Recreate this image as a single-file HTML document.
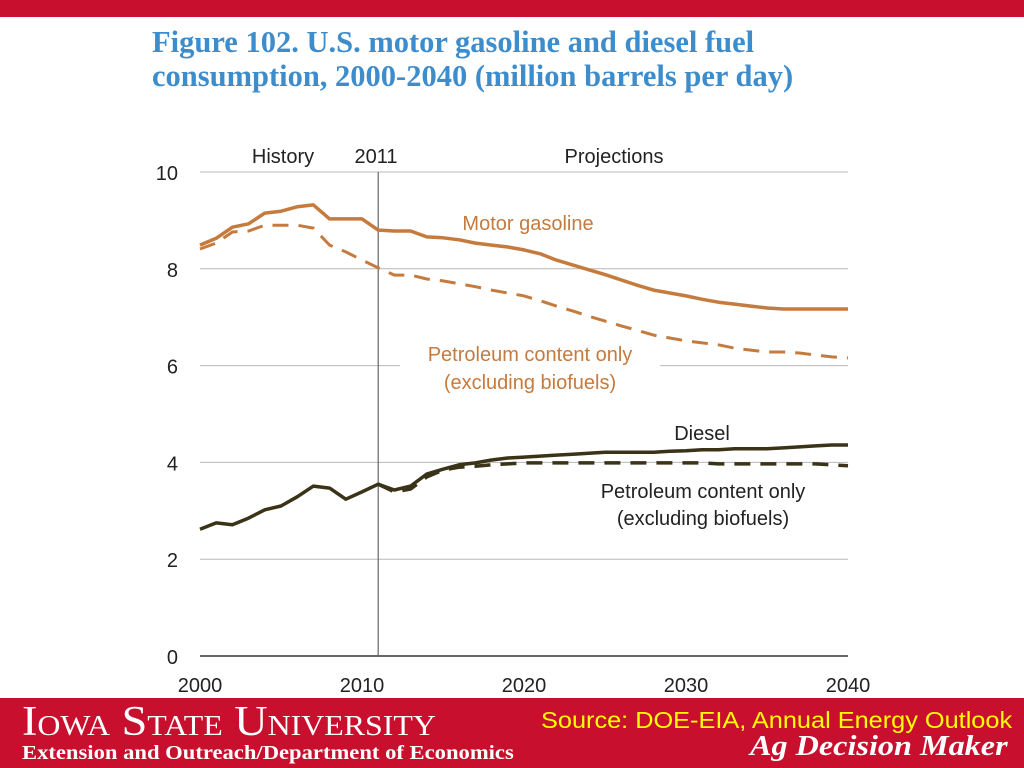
<!DOCTYPE html>
<html><head><meta charset="utf-8"><style>
body{margin:0;width:1024px;height:768px;overflow:hidden;background:#fff;position:relative;font-family:"Liberation Sans",sans-serif}
.abs{position:absolute;white-space:nowrap}
</style></head><body>
<div class="abs" style="left:0;top:0;width:1024px;height:17px;background:#c8102e"></div>
<div class="abs" style="left:152px;top:25px;font-family:'Liberation Serif',serif;font-weight:bold;font-size:30.5px;line-height:34px;color:#3d8ccc">Figure 102. U.S. motor gasoline and diesel fuel<br>consumption, 2000-2040 (million barrels per day)</div>
<svg class="abs" style="left:0;top:0" width="1024" height="700">
<g id="grid"></g><g id="lines"></g><g id="labels"></g>
</svg>
<div class="abs" style="left:0;top:698px;width:1024px;height:70px;background:#c8102e"></div>
<div class="abs" style="left:22px;top:698px;font-family:'Liberation Serif',serif;font-size:42px;color:#fff;font-variant:small-caps;transform:scaleX(1.1);transform-origin:left">Iowa State University</div>
<div class="abs" style="left:22px;top:742px;font-family:'Liberation Serif',serif;font-size:20px;font-weight:bold;color:#fff;transform:scaleX(1.13);transform-origin:left">Extension and Outreach/Department of Economics</div>
<div class="abs" style="left:541px;top:707px;font-size:23px;color:#ffff00;transform:scaleX(1.1);transform-origin:left">Source: DOE-EIA, Annual Energy Outlook</div>
<div class="abs" style="left:750px;top:731px;font-family:'Liberation Serif',serif;font-style:italic;font-weight:bold;font-size:28px;color:#fff;transform:scaleX(1.15);transform-origin:left">Ag Decision Maker</div>
<script>
const years=[];for(let y=2000;y<=2040;y++)years.push(y);
const gasoline=[8.49,8.63,8.86,8.93,9.15,9.19,9.28,9.32,9.03,9.03,9.03,8.80,8.78,8.78,8.66,8.64,8.60,8.53,8.49,8.45,8.39,8.31,8.18,8.08,7.98,7.88,7.77,7.66,7.56,7.50,7.44,7.37,7.31,7.27,7.23,7.19,7.17,7.17,7.17,7.17,7.17];
const gasolinePetro=[8.41,8.53,8.76,8.78,8.90,8.90,8.90,8.84,8.49,8.35,8.18,8.02,7.87,7.87,7.79,7.75,7.69,7.63,7.56,7.50,7.44,7.34,7.23,7.13,7.02,6.92,6.82,6.73,6.63,6.57,6.51,6.47,6.43,6.36,6.32,6.28,6.28,6.26,6.22,6.18,6.16];
const diesel=[2.62,2.75,2.71,2.85,3.02,3.10,3.29,3.51,3.47,3.24,3.39,3.55,3.43,3.51,3.76,3.86,3.95,3.99,4.05,4.09,4.11,4.13,4.15,4.17,4.19,4.21,4.21,4.21,4.21,4.23,4.24,4.26,4.26,4.28,4.28,4.28,4.30,4.32,4.34,4.36,4.36];
const dieselPetro=[null,null,null,null,null,null,null,null,null,null,null,3.55,3.39,3.45,3.70,3.84,3.90,3.92,3.95,3.97,3.99,3.99,3.99,3.99,3.99,3.99,3.99,3.99,3.99,3.99,3.99,3.99,3.97,3.97,3.97,3.97,3.97,3.97,3.97,3.95,3.93];
const yTicks=[0,2,4,6,8,10];
const xTicks=[2000,2010,2020,2030,2040];
const X=v=>200+(v-2000)*16.2, Y=v=>656-v*48.4;
const NS='http://www.w3.org/2000/svg';
function mk(p,tag,at){const e=document.createElementNS(NS,tag);for(const k in at)e.setAttribute(k,at[k]);p.appendChild(e);return e;}
const grid=document.getElementById('grid'),lines=document.getElementById('lines'),labels=document.getElementById('labels');
yTicks.forEach(t=>{
 const l=mk(grid,'line',{x1:200,x2:848,y1:Y(t),y2:Y(t),stroke:t===0?'#333':'#b8b8b8','stroke-width':t===0?1.5:1});
 
 
 const tx=mk(labels,'text',{x:178,y:Y(t)+8,'text-anchor':'end','font-size':20,fill:'#222'});tx.textContent=t;
 
 
});
xTicks.forEach(t=>{
 const tx=mk(labels,'text',{x:X(t),y:692,'text-anchor':'middle','font-size':20,fill:'#222'});tx.textContent=t;
 
 
});
const d=mk(grid,'line',{x1:X(2011),x2:X(2011),y1:172,y2:656,stroke:'#666','stroke-width':1.2});


function path(arr,color,w,dash,name){
 let s='';arr.forEach((v,i)=>{if(v==null)return;s+=(s?'L':'M')+X(years[i]).toFixed(1)+','+Y(v).toFixed(1);});
 const p=mk(lines,'path',{d:s,fill:'none',stroke:color,'stroke-width':w,'stroke-dasharray':dash||'none','stroke-linejoin':'round'});
 
 
}
path(gasolinePetro,'#c57a3e',3,'16,10','gasoline-petroleum-line');
path(gasoline,'#c57a3e',3.5,null,'gasoline-line');
path(dieselPetro,'#3a3318',3.5,'16,10','diesel-petroleum-line');
path(diesel,'#3a3318',3.5,null,'diesel-line');
const T=[['History',283,163,'#222','history-label'],['2011',376,163,'#222','year-2011-label'],['Projections',614,163,'#222','projections-label'],
['Motor gasoline',528,230,'#c57a3e','gasoline-label'],['Petroleum content only',530,361,'#c57a3e','gasoline-petro-label'],['(excluding biofuels)',530,389,'#c57a3e','gasoline-petro-label-2'],
['Diesel',702,440,'#222','diesel-label'],['Petroleum content only',703,498,'#222','diesel-petro-label'],['(excluding biofuels)',703,525,'#222','diesel-petro-label-2']];
T.forEach(([s,x,y,c,n])=>{
 if(n==='gasoline-petro-label'){mk(labels,'rect',{x:400,y:343,width:260,height:52,fill:'#fff'});}
 const tx=mk(labels,'text',{x,y,'text-anchor':'middle','font-size':20,fill:c});tx.textContent=s;
 
 
});
</script>
</body></html>
